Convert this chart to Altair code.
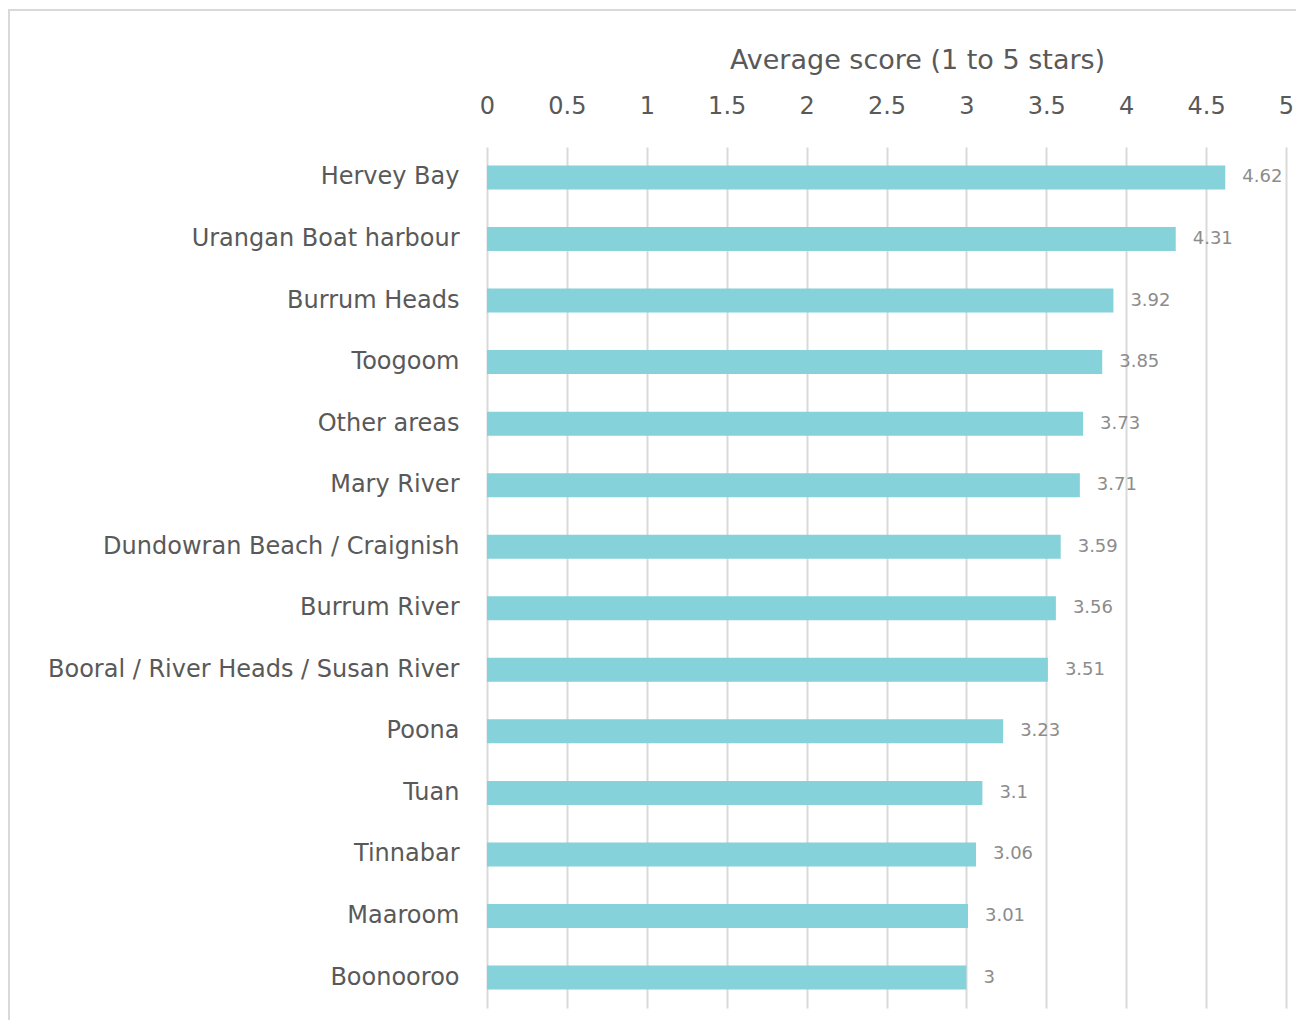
import altair as alt
import pandas as pd

areas = [
    "Hervey Bay", "Urangan Boat harbour", "Burrum Heads", "Toogoom", "Other areas",
    "Mary River", "Dundowran Beach / Craignish", "Burrum River",
    "Booral / River Heads / Susan River\u00a0", "Poona\u00a0", "Tuan\u00a0", "Tinnabar",
    "Maaroom", "Boonooroo",
]
scores = [4.62, 4.31, 3.92, 3.85, 3.73, 3.71, 3.59, 3.56, 3.51, 3.23, 3.1, 3.06, 3.01, 3.0]
score_labels = ["4.62", "4.31", "3.92", "3.85", "3.73", "3.71", "3.59", "3.56", "3.51",
                "3.23", "3.1", "3.06", "3.01", "3"]
ticks = [0, 0.5, 1, 1.5, 2, 2.5, 3, 3.5, 4, 4.5, 5]

df = pd.DataFrame({"area": areas, "score": scores, "label": score_labels})

FONT = "DejaVu Sans"

x = alt.X(
    "score:Q",
    scale=alt.Scale(domain=[0, 5], nice=False, zero=True),
    axis=alt.Axis(
        orient="top", values=ticks, title="Average score (1 to 5 stars)",
        labelFontSize=24, labelColor="#595959", labelFont=FONT, labelPadding=29,
        labelFlush=False, labelOverlap=False,
        titleFontSize=27, titleColor="#595959", titleFont=FONT, titleFontWeight="normal",
        titlePadding=20, titleX=430,
        domain=False, ticks=False, grid=True, gridColor="#d9d9d9", gridWidth=2,
        labelExpr="datum.value == 0 ? '0' : format(datum.value, '')",
    ),
)
y = alt.Y(
    "area:N", sort=areas,
    scale=alt.Scale(paddingInner=0.61, paddingOuter=0.3),
    axis=alt.Axis(
        title=None, labelFontSize=24, labelColor="#595959", labelFont=FONT,
        labelPadding=28, domain=False, ticks=False, labelLimit=500,
    ),
)

bars = alt.Chart(df).mark_bar(color="#85D2DA").encode(x=x, y=y)
texts = alt.Chart(df).mark_text(
    align="left", baseline="middle", dx=17, fontSize=18, color="#8c8c8c", font=FONT
).encode(x="score:Q", y=alt.Y("area:N", sort=areas), text="label:N")

frame = alt.Chart(df).mark_rect(
    fill="transparent", stroke="#d9d9d9", strokeWidth=2, clip=False
).encode(
    x=alt.value(-478), x2=alt.value(830), y=alt.value(-137), y2=alt.value(900)
)

chart = alt.layer(frame, bars, texts).properties(
    width=799, height=861,
    autosize=alt.AutoSizeParams(type="none"),
    padding={"left": 479, "top": 139, "right": 10, "bottom": 12},
    background="white",
).configure_view(strokeWidth=0, stroke="transparent")

chart.save("out.html", embed_options={"renderer": "svg", "actions": False})
